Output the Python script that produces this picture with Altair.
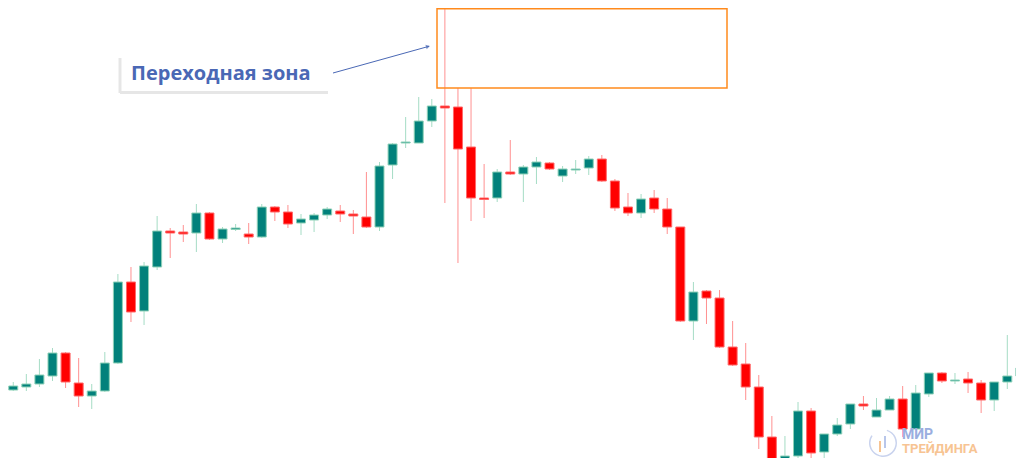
import altair as alt
import pandas as pd

# Candle index and OHLC prices (arbitrary price units)
idx = list(range(78))
opens = [83, 86, 89, 97, 120, 90, 77, 82, 110, 191, 162, 206, 242, 241, 240, 260, 234, 243.5, 239, 236,
         266, 261, 250, 253, 258, 262, 259, 256, 246, 308, 330, 330, 352, 367, 366, 326, 275, 275, 301, 299,
         306, 310, 297, 303, 305, 314, 292, 266, 260, 275, 264, 246, 152, 182, 175, 126, 109, 86, 36, -7,
         17, 62, 21, 39, 49, 69, 56, 63, 74, 44, 79, 100, 92, 94, 90, 73, 91, 97]
closes = [87, 89, 98, 120, 91, 77, 82, 110, 191, 161, 207, 242, 240, 239, 260, 234, 244, 245, 236, 266,
          261, 249, 254, 258, 264, 259, 257, 246, 307, 329, 331, 352, 367, 365, 324, 275, 273.5, 301, 299, 306,
          311, 304, 304, 304, 314, 292, 265, 260, 274, 264, 246, 152, 181, 175, 126, 108, 86, 36, -5, 17,
          62, 20, 39, 48, 69, 67, 63, 74, 44, 80, 100, 92, 93, 90, 73, 91, 97, 105]
highs = [91, 99, 114, 125, 121, 115, 89, 121, 199, 206, 211, 257, 245, 248, 269, 261, 246, 249, 250, 269,
         267, 268, 259, 260, 266, 268, 263, 301, 311, 330, 356, 376, 374, 465, 385, 385, 309, 304, 333, 308,
         316, 311, 307, 313, 317, 318, 294, 280, 279, 283, 275, 246, 191, 183, 183, 152, 130, 98, 57, 37,
         71, 65, 39, 55, 69, 77, 75, 77, 87, 88, 100, 101, 100, 101, 93, 91, 138, 113]
lows = [82, 82, 86, 92, 85, 66, 64, 81, 109, 151, 148, 203, 215, 231, 221, 233, 230, 242, 229, 235,
        252, 245, 238, 241, 254, 251, 239, 245, 242, 294, 325, 330, 346, 270, 210, 252, 255, 271, 298, 271,
        289, 303, 291, 299, 298, 291, 262, 257, 255, 260, 239, 151, 133, 149, 125, 107, 73, 24, -7, -9,
        13, 14, 5, 37, 44, 63, 56, 63, 36, 44, 76, 90, 89, 80, 60, 62, 84, 95]

df = pd.DataFrame({"i": idx, "open": opens, "close": closes, "high": highs, "low": lows})
df["dir"] = ["up" if c >= o else "down" for o, c in zip(opens, closes)]

W, H = 1008, 450
xs = alt.Scale(domain=[-0.02, (W - 0.3) / 13.21], nice=False, zero=False)
ys = alt.Scale(domain=[465 - H, 465], nice=False, zero=False)

UP, DOWN = "#02817b", "#ff0000"
UP_EDGE, DOWN_EDGE = "#8ed1b8", "#ff6a6a"
UP_WICK, DOWN_WICK = "#a5dcc5", "#ff9090"

base = alt.Chart(df)

wicks = base.mark_rule(strokeWidth=1).encode(
    x=alt.X("i:Q", scale=xs, axis=None),
    y=alt.Y("low:Q", scale=ys, axis=None),
    y2="high:Q",
    color=alt.Color("dir:N", scale=alt.Scale(domain=["up", "down"], range=[UP_WICK, DOWN_WICK]), legend=None),
)

bodies = base.mark_bar(size=9, strokeWidth=1).encode(
    x=alt.X("i:Q", scale=xs, axis=None),
    y=alt.Y("open:Q", scale=ys, axis=None),
    y2="close:Q",
    fill=alt.Fill("dir:N", scale=alt.Scale(domain=["up", "down"], range=[UP, DOWN]), legend=None),
    stroke=alt.Stroke("dir:N", scale=alt.Scale(domain=["up", "down"], range=[UP_EDGE, DOWN_EDGE]), legend=None),
)

one = pd.DataFrame({"k": [0]})
ann = alt.Chart(one)

box = ann.mark_rect(fillOpacity=0, stroke="#ff8a1c", strokeWidth=1.5).encode(
    x=alt.value(429), x2=alt.value(719), y=alt.value(0.75), y2=alt.value(80)
)

card_v = ann.mark_rule(color="#e6e6e6", strokeWidth=3).encode(
    x=alt.value(112), y=alt.value(50), y2=alt.value(85)
)
card_h = ann.mark_rule(color="#e6e6e6", strokeWidth=3).encode(
    x=alt.value(112), x2=alt.value(320), y=alt.value(84.5)
)
label = ann.mark_text(text="Переходная зона", font="Open Sans", fontSize=20, fontWeight="bold",
                      color="#4a68b5", align="left", baseline="alphabetic").encode(
    x=alt.value(123), y=alt.value(72)
)
arrow = ann.mark_rule(color="#4a68b5", strokeWidth=1).encode(
    x=alt.value(325), y=alt.value(65), x2=alt.value(421), y2=alt.value(38.3)
)
head = ann.mark_point(shape="triangle-right", filled=True, size=22, angle=344, color="#4a68b5").encode(
    x=alt.value(420), y=alt.value(38.5)
)

logo1 = ann.mark_text(text="МИР", font="Roboto", fontSize=14, fontWeight="bold",
                      color="#9aaedf", align="left", baseline="alphabetic").encode(
    x=alt.value(894), y=alt.value(431)
)
logo2 = ann.mark_text(text="ТРЕЙДИНГА", font="Roboto", fontSize=13, fontWeight="bold",
                      color="#f7c493", align="left", baseline="alphabetic").encode(
    x=alt.value(894), y=alt.value(445)
)
icon = ann.mark_arc(radius=14, radius2=12.5, theta=0.3, theta2=5.3, color="#c9d3ee").encode(
    x=alt.value(875), y=alt.value(435)
)
icon_bars1 = ann.mark_rule(color="#f7c493", strokeWidth=2).encode(
    x=alt.value(872), y=alt.value(433), y2=alt.value(444)
)
icon_bars2 = ann.mark_rule(color="#b8c6ea", strokeWidth=2).encode(
    x=alt.value(877), y=alt.value(428), y2=alt.value(440)
)

chart = alt.layer(
    wicks, bodies, box, card_v, card_h, label, arrow, head, icon, icon_bars1, icon_bars2, logo1, logo2
).properties(
    width=W, height=H, padding=0,
    autosize=alt.AutoSizeParams(type="none"),
).configure_view(stroke=None)

chart.save("out.html", embed_options={"renderer": "svg", "actions": False})
